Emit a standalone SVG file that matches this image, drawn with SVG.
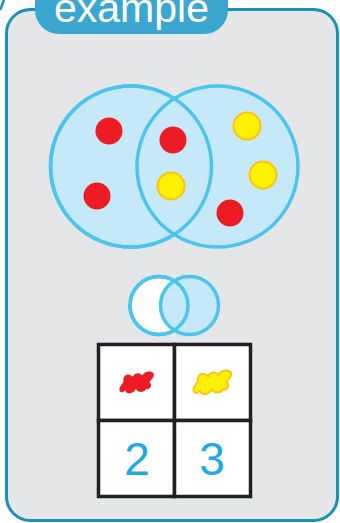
<svg xmlns="http://www.w3.org/2000/svg" width="340" height="523" viewBox="0 0 340 523">
<defs>
<style>
.big{fill:#c6e9f9;stroke:#4cc5ee;stroke-width:3.5}
.ring{fill:none;stroke:#4cc5ee;stroke-width:3.5}
.red{fill:#ed1c24}
.yel{fill:#fff200;stroke:#fdc20f;stroke-width:2}
.cell{fill:#ffffff;stroke:#231f20;stroke-width:3.5}
.num{font-family:"Liberation Sans",Arial,sans-serif;font-size:46px;fill:#1ea9e6;text-anchor:middle}
</style>
<path id="blob" d="M5,8 C7,2 12,4 14,6 C16,2 21,2 23,5 C25,1 31,0 34,3 C35,7 31,9 30,11 C33,13 31,18 27,17 C24,21 19,20 17,17 C14,22 8,22 7,18 C3,22 0,19 2,15 C4,12 6,11 5,8 Z"/>
</defs>
<rect width="340" height="523" fill="#ffffff"/>
<g id="panel">
<path d="M0,10 L4,0" stroke="#1a8fb8" stroke-width="2.5" fill="none"/>
<rect x="6.5" y="9.5" width="331" height="511" rx="24" ry="24" fill="#e5e6e8" stroke="#1a8fb8" stroke-width="3"/>
</g>
<g id="label">
<rect x="35" y="-30" width="193" height="64" rx="24" ry="24" fill="#3ba6cf"/>
<text x="131.5" y="22" font-family="Liberation Sans,Arial,sans-serif" font-size="41" fill="#ffffff" text-anchor="middle">example</text>
</g>
<g id="venn-large">
<circle class="big" cx="131" cy="166.5" r="80.5"/>
<circle class="big" cx="217.5" cy="166.5" r="80.5"/>
<circle class="ring" cx="131" cy="166.5" r="80.5"/>
<circle class="red" cx="109" cy="131" r="13.5"/>
<circle class="red" cx="97" cy="196" r="13.5"/>
<circle class="red" cx="173" cy="140" r="13.5"/>
<circle class="red" cx="230" cy="213" r="13.5"/>
<circle class="yel" cx="171" cy="186" r="13.5"/>
<circle class="yel" cx="247" cy="126" r="13.5"/>
<circle class="yel" cx="263" cy="175" r="13.5"/>
</g>
<g id="venn-small">
<circle cx="159" cy="305.5" r="29" fill="#ffffff" stroke="#4cc5ee" stroke-width="3.5"/>
<circle cx="189.5" cy="305.5" r="29" fill="#c6e9f9" stroke="#4cc5ee" stroke-width="3.5"/>
<circle class="ring" cx="159" cy="305.5" r="29"/>
</g>
<g id="table">
<rect class="cell" x="98.5" y="344.5" width="76" height="76"/>
<rect class="cell" x="174.5" y="344.5" width="76" height="76"/>
<rect class="cell" x="98.5" y="420.5" width="76" height="76"/>
<rect class="cell" x="174.5" y="420.5" width="76" height="76"/>
<use href="#blob" transform="translate(118,370) scale(1.05,1.12)" fill="#ed1c24"/>
<use href="#blob" transform="translate(192,369) scale(1.15,1.2)" fill="#fff200" stroke="#fdc20f" stroke-width="1.6"/>
<text class="num" x="137" y="475">2</text>
<text class="num" x="212" y="475">3</text>
</g>
</svg>
